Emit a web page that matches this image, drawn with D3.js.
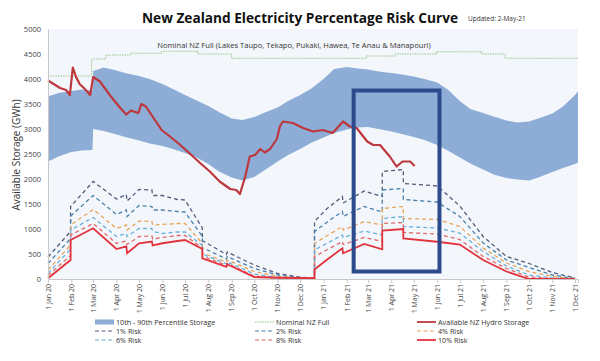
<!DOCTYPE html>
<html>
<head>
<meta charset="utf-8">
<script src="https://cdn.jsdelivr.net/npm/d3@7"></script>
<style>
  body { margin: 0; background: #fff; }
  svg { font-family: "Open Sans", sans-serif; }
</style>
</head>
<body>
<div id="chart"></div>
<script>
// Declare constants
const FRAME_WIDTH = 600;
const FRAME_HEIGHT = 361;
const MARGINS = {left: 48, right: 22, top: 29, bottom: 82};

// 10th - 90th percentile band (semi-monthly reads)
const bandDates = ["2020-01-01","2020-01-15","2020-02-01","2020-02-15","2020-02-29","2020-03-01","2020-03-15",
  "2020-04-01","2020-04-15","2020-05-01","2020-05-15","2020-06-01","2020-06-15","2020-07-01","2020-07-15",
  "2020-08-01","2020-08-15","2020-09-01","2020-09-15","2020-10-01","2020-10-15","2020-11-01","2020-11-15",
  "2020-12-01","2020-12-15","2021-01-01","2021-01-15","2021-02-01","2021-02-15","2021-03-01","2021-03-15",
  "2021-04-01","2021-04-15","2021-05-01","2021-05-15","2021-06-01","2021-06-15","2021-07-01","2021-07-15",
  "2021-08-01","2021-08-15","2021-09-01","2021-09-15","2021-10-01","2021-10-15","2021-11-01","2021-11-15",
  "2021-12-01","2021-12-05"];
const band90 = [3650,3720,3760,3790,3770,4160,4230,4170,4110,4060,4000,3900,3800,3680,3580,
  3460,3340,3210,3180,3240,3330,3430,3560,3680,3800,4000,4200,4240,4210,4190,4150,
  4120,4090,4050,4000,3930,3790,3560,3400,3320,3250,3170,3130,3150,3220,3310,3450,3680,3750];
const band10 = [2350,2450,2540,2570,2580,3000,2960,2890,2830,2770,2710,2660,2600,2520,2440,
  2300,2150,2030,1970,2040,2180,2350,2480,2600,2720,2830,2920,2990,3030,3040,3000,
  2950,2900,2840,2780,2680,2570,2430,2310,2190,2090,2020,1990,1970,2040,2140,2220,2300,2330];

// Nominal NZ Full (step line)
const nominalDates = ["2020-01-01","2020-02-28","2020-02-28","2020-03-18","2020-03-18","2020-04-20","2020-04-20",
  "2020-05-31","2020-05-31","2020-07-18","2020-07-18","2020-09-01","2020-09-01","2021-02-27","2021-02-27",
  "2021-04-06","2021-04-06","2021-05-31","2021-05-31","2021-07-30","2021-07-30","2021-08-30","2021-08-30","2021-12-05"];
const nominalValues = [4060,4060,4400,4400,4480,4480,4515,4515,4555,4555,4500,4500,4415,4415,4460,
  4460,4500,4500,4545,4545,4500,4500,4415,4415];

// Available NZ Hydro Storage
const hydroDates = ["2020-01-01","2020-01-17","2020-01-25","2020-01-30","2020-02-03","2020-02-07","2020-02-12",
  "2020-02-19","2020-02-26","2020-03-01","2020-03-10","2020-03-23","2020-04-06","2020-04-14","2020-04-20",
  "2020-04-30","2020-05-04","2020-05-10","2020-05-22","2020-05-31","2020-06-11","2020-06-24","2020-07-08",
  "2020-07-21","2020-08-03","2020-08-16","2020-08-30","2020-09-07","2020-09-12","2020-09-19","2020-09-25",
  "2020-10-02","2020-10-09","2020-10-15","2020-10-22","2020-10-31","2020-11-04","2020-11-08","2020-11-21",
  "2020-12-05","2020-12-18","2020-12-31","2021-01-13","2021-01-27","2021-02-05","2021-02-14","2021-02-28",
  "2021-03-08","2021-03-17","2021-03-30","2021-04-08","2021-04-16","2021-04-26","2021-05-02"];
const hydroValues = [3970,3820,3780,3680,4230,4050,3900,3800,3680,4040,3950,3680,3420,3290,3370,
  3320,3500,3450,3180,2980,2850,2690,2500,2320,2150,1950,1800,1780,1700,2050,2450,
  2480,2600,2530,2600,2800,3050,3150,3120,3020,2950,2980,2920,3150,3050,3020,2750,
  2680,2680,2450,2250,2350,2350,2260];

// Percentage risk curves
const riskDates = ["2020-01-01","2020-01-31","2020-01-31","2020-03-01","2020-04-01","2020-04-14","2020-04-15",
  "2020-05-01","2020-05-18","2020-05-19","2020-06-01","2020-06-21","2020-07-01","2020-07-24","2020-07-24",
  "2020-08-25","2020-08-26","2020-10-01","2020-11-01","2020-12-01","2020-12-20","2020-12-20","2021-01-05",
  "2021-01-26","2021-01-27","2021-02-24","2021-03-20","2021-03-20","2021-04-17","2021-04-17","2021-06-01",
  "2021-07-01","2021-08-01","2021-09-01","2021-10-01","2021-11-01","2021-12-01"];
const risk1 = [440,950,1450,1950,1600,1690,1560,1790,1780,1670,1670,1590,1580,1020,770,490,540,280,110,35,15,
  1150,1400,1650,1520,1760,1650,2150,2190,1910,1860,1460,850,450,310,130,20];
const risk2 = [310,810,1260,1670,1290,1380,1250,1470,1450,1380,1380,1350,1340,850,630,400,450,210,80,25,15,
  950,1130,1350,1250,1450,1340,1780,1810,1590,1540,1250,720,380,230,80,10];
const risk4 = [180,680,1080,1390,1010,1080,980,1160,1150,1080,1090,1110,1110,710,520,340,380,150,50,20,15,
  710,860,1050,980,1150,1080,1410,1450,1210,1190,1050,620,320,150,50,0];
const risk6 = [110,600,980,1230,850,910,850,1010,1010,950,910,940,940,670,500,300,340,100,30,20,15,
  580,710,880,830,960,880,1210,1250,1050,1020,920,550,260,80,20,0];
const risk8 = [70,470,880,1110,710,760,690,850,860,800,830,870,870,620,460,270,310,60,20,20,15,
  450,580,750,690,830,750,1110,1130,930,900,790,450,210,40,5,0];
const risk10 = [15,380,780,1015,600,650,515,715,750,670,715,760,780,600,415,245,295,40,25,20,15,
  190,380,615,515,700,595,970,1000,810,745,690,380,150,0,0,0];

const yTicks = [0,500,1000,1500,2000,2500,3000,3500,4000,4500,5000];

// highlight box (dates / storage values)
const boxDates = ["2021-02-10","2021-06-04"];
const boxValues = [150, 3770];

const parse = d3.timeParse("%Y-%m-%d");

const svg = d3.select("#chart")
  .append("svg")
    .attr("width", FRAME_WIDTH)
    .attr("height", FRAME_HEIGHT);

const x = d3.scaleTime()
  .domain([parse("2020-01-01"), parse("2021-12-05")])
  .range([MARGINS.left, FRAME_WIDTH - MARGINS.right]);
const y = d3.scaleLinear()
  .domain([0, 5000])
  .range([FRAME_HEIGHT - MARGINS.bottom, MARGINS.top]);

// plot background
svg.append("rect")
  .attr("x", x.range()[0]).attr("y", y(5000))
  .attr("width", x.range()[1] - x.range()[0])
  .attr("height", y(0) - y(5000))
  .attr("fill", "#f3f7fb");

// percentile band
const bandData = bandDates.map((d, i) => ({date: parse(d), lo: band10[i], hi: band90[i]}));
svg.append("path")
  .datum(bandData)
  .attr("fill", "#8dadd6")
  .attr("d", d3.area().x(d => x(d.date)).y0(d => y(d.lo)).y1(d => y(d.hi)));

// nominal full
const nominalData = nominalDates.map((d, i) => ({date: parse(d), v: nominalValues[i]}));
svg.append("path")
  .datum(nominalData)
  .attr("fill", "none")
  .attr("stroke", "#9cc48c")
  .attr("stroke-width", 1)
  .attr("stroke-dasharray", "1.5,1")
  .attr("d", d3.line().x(d => x(d.date)).y(d => y(d.v)));

svg.append("text")
  .attr("x", 294).attr("y", 48)
  .attr("text-anchor", "middle")
  .attr("font-size", 7.6)
  .attr("fill", "#333")
  .text("Nominal NZ Full (Lakes Taupo, Tekapo, Pukaki, Hawea, Te Anau & Manapouri)");

// risk curves
const riskSeries = [
  {name: "1% Risk", values: risk1, color: "#525c7c", dash: "4,3", width: 1.3},
  {name: "2% Risk", values: risk2, color: "#4a80aa", dash: "4,3", width: 1.3},
  {name: "4% Risk", values: risk4, color: "#e8a45a", dash: "4,3", width: 1.3},
  {name: "6% Risk", values: risk6, color: "#6cb0dc", dash: "4,3", width: 1.3},
  {name: "8% Risk", values: risk8, color: "#e06a6a", dash: "4,3", width: 1.3},
  {name: "10% Risk", values: risk10, color: "#e2323c", dash: null, width: 1.8}
];
const line = d3.line().x(d => x(d.date)).y(d => y(d.v));
riskSeries.forEach(s => {
  svg.append("path")
    .datum(riskDates.map((d, i) => ({date: parse(d), v: s.values[i]})))
    .attr("fill", "none")
    .attr("stroke", s.color)
    .attr("stroke-width", s.width)
    .attr("stroke-dasharray", s.dash)
    .attr("d", line);
});

// hydro storage
svg.append("path")
  .datum(hydroDates.map((d, i) => ({date: parse(d), v: hydroValues[i]})))
  .attr("fill", "none")
  .attr("stroke", "#bc383c")
  .attr("stroke-width", 2.2)
  .attr("stroke-linejoin", "round")
  .attr("d", line);

// axes
const yAxis = svg.append("g")
  .attr("transform", `translate(${MARGINS.left},0)`)
  .call(d3.axisLeft(y).tickValues(yTicks).tickSize(0).tickPadding(7).tickFormat(d3.format("d")));
yAxis.select(".domain").attr("stroke", "#c8c8c8");
yAxis.selectAll("text").attr("font-size", 7.5).attr("fill", "#444")
  .attr("font-family", "Open Sans");

const xAxis = svg.append("g")
  .attr("transform", `translate(0,${y(0)})`)
  .call(d3.axisBottom(x)
    .ticks(d3.timeMonth.every(1))
    .tickSize(4)
    .tickFormat(d3.timeFormat("%-d %b %y")));
xAxis.select(".domain").attr("stroke", "#c8c8c8");
xAxis.selectAll("line").attr("stroke", "#c8c8c8");
xAxis.selectAll("text")
  .attr("font-size", 7)
  .attr("fill", "#444")
  .attr("font-family", "Open Sans")
  .attr("text-anchor", "end")
  .attr("transform", "rotate(-90)")
  .attr("x", -5).attr("y", 0).attr("dy", "0.32em");

// highlight box
svg.append("rect")
  .attr("x", x(parse(boxDates[0])))
  .attr("y", y(boxValues[1]))
  .attr("width", x(parse(boxDates[1])) - x(parse(boxDates[0])))
  .attr("height", y(boxValues[0]) - y(boxValues[1]))
  .attr("fill", "none")
  .attr("stroke", "#2c4b8c")
  .attr("stroke-width", 4);

// titles
svg.append("text")
  .attr("x", 300).attr("y", 23)
  .attr("text-anchor", "middle")
  .attr("font-size", 14)
  .attr("font-weight", "bold")
  .attr("fill", "#111")
  .attr("textLength", 316)
  .attr("lengthAdjust", "spacingAndGlyphs")
  .text("New Zealand Electricity Percentage Risk Curve");
svg.append("text")
  .attr("x", 468).attr("y", 21)
  .attr("font-size", 6.5)
  .attr("fill", "#333")
  .text("Updated: 2-May-21");
svg.append("text")
  .attr("transform", "translate(20,155) rotate(-90)")
  .attr("text-anchor", "middle")
  .attr("font-size", 10)
  .attr("fill", "#333")
  .text("Available Storage (GWh)");

// legend
const legendItems = [
  {name: "10th - 90th Percentile Storage", type: "band", color: "#8dadd6"},
  {name: "Nominal NZ Full", type: "dot", color: "#9cc48c"},
  {name: "Available NZ Hydro Storage", type: "solid", color: "#bc383c"},
  {name: "1% Risk", type: "dash", color: "#525c7c"},
  {name: "2% Risk", type: "dash", color: "#4a80aa"},
  {name: "4% Risk", type: "dash", color: "#e8a45a"},
  {name: "6% Risk", type: "dash", color: "#6cb0dc"},
  {name: "8% Risk", type: "dash", color: "#e06a6a"},
  {name: "10% Risk", type: "solid", color: "#e2323c"}
];
const colX = [95, 255, 417];
const rowY = [322, 331, 340];
const legend = svg.append("g");
legendItems.forEach((d, i) => {
  const lx = colX[i % 3], ly = rowY[Math.floor(i / 3)];
  if (d.type === "band") {
    legend.append("rect").attr("x", lx).attr("y", ly - 2.5).attr("width", 19).attr("height", 5)
      .attr("fill", d.color);
  } else {
    legend.append("line").attr("x1", lx).attr("x2", lx + 19).attr("y1", ly).attr("y2", ly)
      .attr("stroke", d.color)
      .attr("stroke-width", d.type === "solid" ? 1.8 : 1.2)
      .attr("stroke-dasharray", d.type === "dash" ? "4,2.5" : d.type === "dot" ? "1.5,1" : null);
  }
  legend.append("text").attr("x", lx + 21).attr("y", ly).attr("dy", "0.35em")
    .attr("font-size", 7.2).attr("fill", "#333").text(d.name);
});
</script>
</body>
</html>
